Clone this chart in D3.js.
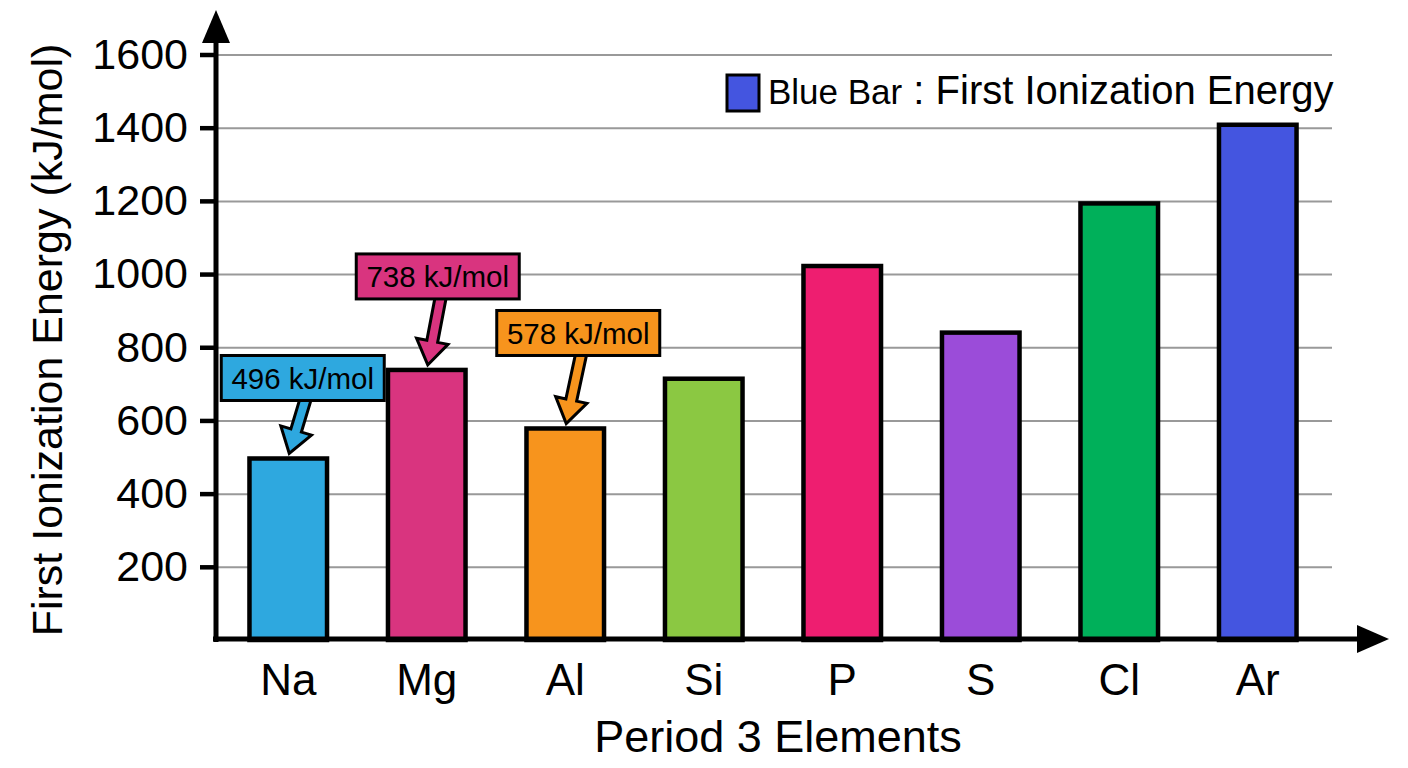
<!DOCTYPE html>
<html>
<head>
<meta charset="utf-8">
<script src="https://cdn.jsdelivr.net/npm/d3@7"></script>
<style>
  body { margin: 0; background: #fff; }
  text { font-family: "Liberation Sans", Arial, sans-serif; fill: #000; }
</style>
</head>
<body>
<div id="chart"></div>
<script>
var elements = ["Na", "Mg", "Al", "Si", "P", "S", "Cl", "Ar"];
var energies = [496, 738, 578, 714, 1022, 840, 1193, 1408];
var barColors = ["#2ea8df", "#d9347f", "#f7941d", "#8bc842", "#ee1e70", "#9b4cd9", "#00b05a", "#4455e0"];
var yTicks = [200, 400, 600, 800, 1000, 1200, 1400, 1600];
var calloutElements = ["Na", "Mg", "Al"];
var calloutLabels = ["496 kJ/mol", "738 kJ/mol", "578 kJ/mol"];

var W = 1408, H = 768;
var plotLeft = 216, plotRight = 1332, plotBase = 640, plotTop = 54.5;

var svg = d3.select("#chart")
    .append("svg")
    .attr("width", W)
    .attr("height", H);

var x = d3.scaleBand()
    .domain(elements)
    .range([219, 1327])
    .paddingInner(0.44)
    .paddingOuter(0.22);

var y = d3.scaleLinear()
    .domain([0, 1600])
    .range([plotBase, plotTop]);

// grid
var grid = svg.append("g")
    .attr("transform", "translate(" + plotLeft + ",0)")
    .call(d3.axisLeft(y).tickValues(yTicks).tickSize(-(plotRight - plotLeft)).tickFormat(""));
grid.select(".domain").remove();
grid.selectAll("line").attr("stroke", "#999").attr("stroke-width", 2);

// bars
svg.append("g").selectAll("rect")
    .data(elements)
    .join("rect")
    .attr("x", function(d) { return x(d); })
    .attr("y", function(d, i) { return y(energies[i]); })
    .attr("width", x.bandwidth())
    .attr("height", function(d, i) { return plotBase - y(energies[i]); })
    .attr("fill", function(d, i) { return barColors[i]; })
    .attr("stroke", "#000")
    .attr("stroke-width", 4.5);

// y axis
var yAxis = svg.append("g")
    .attr("transform", "translate(" + plotLeft + ",0)")
    .call(d3.axisLeft(y).tickValues(yTicks).tickSize(16).tickPadding(12).tickFormat(d3.format("d")));
yAxis.select(".domain").remove();
yAxis.selectAll("line").attr("stroke", "#000").attr("stroke-width", 4.5);
yAxis.selectAll("text").style("font-size", "43px").attr("fill", "#000");

// x axis labels
var xAxis = svg.append("g")
    .attr("transform", "translate(0," + plotBase + ")")
    .call(d3.axisBottom(x).tickSize(0).tickPadding(24));
xAxis.select(".domain").remove();
xAxis.selectAll("text").style("font-size", "44px").attr("fill", "#000");

// axis lines with arrows
svg.append("line")
    .attr("x1", plotLeft).attr("y1", plotBase + 2)
    .attr("x2", plotLeft).attr("y2", 36)
    .attr("stroke", "#000").attr("stroke-width", 5);
svg.append("path")
    .attr("d", "M" + plotLeft + ",10 L" + (plotLeft - 14) + ",43 L" + (plotLeft + 14) + ",43 Z")
    .attr("fill", "#000");
svg.append("line")
    .attr("x1", plotLeft - 3).attr("y1", plotBase - 1)
    .attr("x2", 1364).attr("y2", plotBase - 1)
    .attr("stroke", "#000").attr("stroke-width", 5);
svg.append("path")
    .attr("d", "M1389," + (plotBase - 1) + " L1357," + (plotBase - 15) + " L1357," + (plotBase + 13) + " Z")
    .attr("fill", "#000");

// axis titles
svg.append("text")
    .attr("transform", "translate(62,340) rotate(-90)")
    .attr("text-anchor", "middle")
    .style("font-size", "43px")
    .text("First Ionization Energy (kJ/mol)");

svg.append("text")
    .attr("x", 778)
    .attr("y", 752)
    .attr("text-anchor", "middle")
    .style("font-size", "45px")
    .text("Period 3 Elements");

// legend
svg.append("rect")
    .attr("x", 727).attr("y", 75)
    .attr("width", 32).attr("height", 36)
    .attr("fill", barColors[7])
    .attr("stroke", "#000").attr("stroke-width", 3);
var leg = svg.append("text")
    .attr("x", 768)
    .attr("y", 104);
leg.append("tspan").style("font-size", "35px").text("Blue Bar");
leg.append("tspan").style("font-size", "40px").text(" : First Ionization Energy");

// callouts
var calloutLayout = { Na: { dx: 14.5, gap: 58 }, Mg: { dx: 11, gap: 71 }, Al: { dx: 13, gap: 73 } };
var boxW = 163, boxH = 45;

calloutElements.forEach(function(e, k) {
  var i = elements.indexOf(e);
  var cx = x(e) + x.bandwidth() / 2;
  var ty = y(energies[i]) - 5;
  var lay = calloutLayout[e];
  var bx = cx + lay.dx;
  var bb = y(energies[i]) - lay.gap;
  var sx = bx + 3, sy = bb - 2, tx = cx + 1;

  var dxv = tx - sx, dyv = ty - sy;
  var len = Math.sqrt(dxv * dxv + dyv * dyv);
  var ux = dxv / len, uy = dyv / len, nx = -uy, ny = ux;
  var hw = 5.5, hh = 16, hl = 24;
  var neckX = tx - ux * hl, neckY = ty - uy * hl;
  var pts = [
    [sx + nx * hw, sy + ny * hw],
    [neckX + nx * hw, neckY + ny * hw],
    [neckX + nx * hh, neckY + ny * hh],
    [tx, ty],
    [neckX - nx * hh, neckY - ny * hh],
    [neckX - nx * hw, neckY - ny * hw],
    [sx - nx * hw, sy - ny * hw]
  ];
  svg.append("path")
      .attr("d", d3.line()(pts) + "Z")
      .attr("fill", barColors[i])
      .attr("stroke", "#000")
      .attr("stroke-width", 3)
      .attr("stroke-linejoin", "miter");

  svg.append("rect")
      .attr("x", bx - boxW / 2)
      .attr("y", bb - boxH)
      .attr("width", boxW)
      .attr("height", boxH)
      .attr("fill", barColors[i])
      .attr("stroke", "#000")
      .attr("stroke-width", 3);

  svg.append("text")
      .attr("x", bx)
      .attr("y", bb - boxH / 2)
      .attr("dy", "0.36em")
      .attr("text-anchor", "middle")
      .style("font-size", "29.5px")
      .text(calloutLabels[k]);
});
</script>
</body>
</html>
